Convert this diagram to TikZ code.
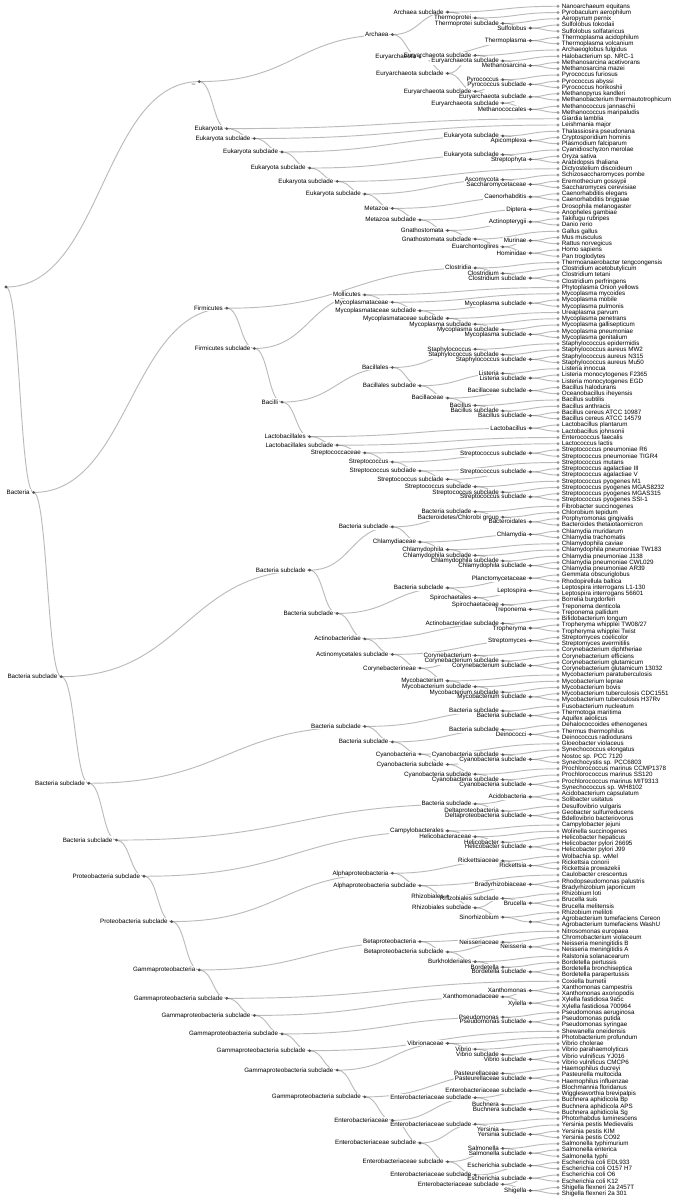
\documentclass[tikz,border=0pt]{standalone}
\usepackage{fontspec}
\setmainfont{Liberation Sans}
\usetikzlibrary{calc}
\pgfdeclarelayer{bg}
\pgfdeclarelayer{halo}
\pgfsetlayers{bg,halo,main}
\definecolor{leafgray}{HTML}{999999}
\definecolor{innergray}{HTML}{555555}
\definecolor{linkgray}{HTML}{555555}
\newdimen\tsumy \newdimen\tdim \newcount\tcnt \newcount\thmax \newcount\thc
\tikzset{
  leafdot/.style={circle, fill=leafgray, inner sep=0pt, minimum size=3.1pt},
  innerdot/.style={circle, fill=innergray, inner sep=0pt, minimum size=3.1pt},
  lab/.style={font=\fontsize{6.25}{7}\selectfont, inner sep=0pt, text=black},
  link/.style={draw=linkgray, draw opacity=0.4, line width=0.94pt},
  halofill/.style={fill=white},
}
% internal node: id, label, children
\newcommand\T[3]{%
  \global\tsumy=0pt \global\tcnt=0 \global\thmax=0
  \foreach \ch in {#3}{%
    \pgfextracty{\tdim}{\pgfpointanchor{\ch}{center}}%
    \global\advance\tsumy by \tdim
    \global\advance\tcnt by 1
    \thc=\csname hh@\ch\endcsname\relax
    \ifnum\thc>\thmax \global\thmax=\thc\fi
  }%
  \global\advance\thmax by 1
  \expandafter\xdef\csname hh@#1\endcsname{\the\thmax}%
  \global\divide\tsumy by \tcnt
  \tdim=27.6pt \multiply\tdim by \thmax \tdim=-\tdim \advance\tdim by 558pt
  \node[innerdot] (#1) at (\the\tdim,\the\tsumy) {};
  \node[lab, anchor=base east, xshift=-3.75pt, yshift=-1.94pt] (#1t) at (#1.center) {#2};
  \begin{pgfonlayer}{halo}
  \fill[halofill] ([xshift=-0.8pt,yshift=-0.8pt]#1t.south west) rectangle ([xshift=0.8pt,yshift=0.8pt]#1t.north east);
  \end{pgfonlayer}
  \begin{pgfonlayer}{bg}
  \foreach \ch in {#3}{\draw[link] let \p1=(#1.center), \p2=(\ch.center) in
     (\p1) .. controls ({0.5*\x1+0.5*\x2},\y1) and ({0.5*\x1+0.5*\x2},\y2) .. (\p2);}
  \end{pgfonlayer}
}
\begin{document}
\begin{tikzpicture}
\begin{pgfonlayer}{bg}
\fill[white] (0pt,0pt) rectangle (675pt,-1200pt);
\end{pgfonlayer}
\useasboundingbox (0pt,0pt) rectangle (675pt,-1200pt);
\foreach \nm [count=\i from 0] in {
Nanoarchaeum equitans,
Pyrobaculum aerophilum,
Aeropyrum pernix,
Sulfolobus tokodaii,
Sulfolobus solfataricus,
Thermoplasma acidophilum,
Thermoplasma volcanium,
Archaeoglobus fulgidus,
Halobacterium sp. NRC-1,
Methanosarcina acetivorans,
Methanosarcina mazei,
Pyrococcus furiosus,
Pyrococcus abyssi,
Pyrococcus horikoshii,
Methanopyrus kandleri,
Methanobacterium thermautotrophicum,
Methanococcus jannaschii,
Methanococcus maripaludis,
Giardia lamblia,
Leishmania major,
Thalassiosira pseudonana,
Cryptosporidium hominis,
Plasmodium falciparum,
Cyanidioschyzon merolae,
Oryza sativa,
Arabidopsis thaliana,
Dictyostelium discoideum,
Schizosaccharomyces pombe,
Eremothecium gossypii,
Saccharomyces cerevisiae,
Caenorhabditis elegans,
Caenorhabditis briggsae,
Drosophila melanogaster,
Anopheles gambiae,
Takifugu rubripes,
Danio rerio,
Gallus gallus,
Mus musculus,
Rattus norvegicus,
Homo sapiens,
Pan troglodytes,
Thermoanaerobacter tengcongensis,
Clostridium acetobutylicum,
Clostridium tetani,
Clostridium perfringens,
Phytoplasma Onion yellows,
Mycoplasma mycoides,
Mycoplasma mobile,
Mycoplasma pulmonis,
Ureaplasma parvum,
Mycoplasma penetrans,
Mycoplasma gallisepticum,
Mycoplasma pneumoniae,
Mycoplasma genitalium,
Staphylococcus epidermidis,
Staphylococcus aureus MW2,
Staphylococcus aureus N315,
Staphylococcus aureus Mu50,
Listeria innocua,
Listeria monocytogenes F2365,
Listeria monocytogenes EGD,
Bacillus halodurans,
Oceanobacillus iheyensis,
Bacillus subtilis,
Bacillus anthracis,
Bacillus cereus ATCC 10987,
Bacillus cereus ATCC 14579,
Lactobacillus plantarum,
Lactobacillus johnsonii,
Enterococcus faecalis,
Lactococcus lactis,
Streptococcus pneumoniae R6,
Streptococcus pneumoniae TIGR4,
Streptococcus mutans,
Streptococcus agalactiae III,
Streptococcus agalactiae V,
Streptococcus pyogenes M1,
Streptococcus pyogenes MGAS8232,
Streptococcus pyogenes MGAS315,
Streptococcus pyogenes SSI-1,
Fibrobacter succinogenes,
Chlorobium tepidum,
Porphyromonas gingivalis,
Bacteroides thetaiotaomicron,
Chlamydia muridarum,
Chlamydia trachomatis,
Chlamydophila caviae,
Chlamydophila pneumoniae TW183,
Chlamydia pneumoniae J138,
Chlamydia pneumoniae CWL029,
Chlamydia pneumoniae AR39,
Gemmata obscuriglobus,
Rhodopirellula baltica,
Leptospira interrogans L1-130,
Leptospira interrogans 56601,
Borrelia burgdorferi,
Treponema denticola,
Treponema pallidum,
Bifidobacterium longum,
Tropheryma whipplei TW08/27,
Tropheryma whipplei Twist,
Streptomyces coelicolor,
Streptomyces avermitilis,
Corynebacterium diphtheriae,
Corynebacterium efficiens,
Corynebacterium glutamicum,
Corynebacterium glutamicum 13032,
Mycobacterium paratuberculosis,
Mycobacterium leprae,
Mycobacterium bovis,
Mycobacterium tuberculosis CDC1551,
Mycobacterium tuberculosis H37Rv,
Fusobacterium nucleatum,
Thermotoga maritima,
Aquifex aeolicus,
Dehalococcoides ethenogenes,
Thermus thermophilus,
Deinococcus radiodurans,
Gloeobacter violaceus,
Synechococcus elongatus,
Nostoc sp. PCC 7120,
Synechocystis sp. PCC6803,
Prochlorococcus marinus CCMP1378,
Prochlorococcus marinus SS120,
Prochlorococcus marinus MIT9313,
Synechococcus sp. WH8102,
Acidobacterium capsulatum,
Solibacter usitatus,
Desulfovibrio vulgaris,
Geobacter sulfurreducens,
Bdellovibrio bacteriovorus,
Campylobacter jejuni,
Wolinella succinogenes,
Helicobacter hepaticus,
Helicobacter pylori 26695,
Helicobacter pylori J99,
Wolbachia sp. wMel,
Rickettsia conorii,
Rickettsia prowazekii,
Caulobacter crescentus,
Rhodopseudomonas palustris,
Bradyrhizobium japonicum,
Rhizobium loti,
Brucella suis,
Brucella melitensis,
Rhizobium meliloti,
Agrobacterium tumefaciens Cereon,
Agrobacterium tumefaciens WashU,
Nitrosomonas europaea,
Chromobacterium violaceum,
Neisseria meningitidis B,
Neisseria meningitidis A,
Ralstonia solanacearum,
Bordetella pertussis,
Bordetella bronchiseptica,
Bordetella parapertussis,
Coxiella burnetii,
Xanthomonas campestris,
Xanthomonas axonopodis,
Xylella fastidiosa 9a5c,
Xylella fastidiosa 700964,
Pseudomonas aeruginosa,
Pseudomonas putida,
Pseudomonas syringae,
Shewanella oneidensis,
Photobacterium profundum,
Vibrio cholerae,
Vibrio parahaemolyticus,
Vibrio vulnificus YJ016,
Vibrio vulnificus CMCP6,
Haemophilus ducreyi,
Pasteurella multocida,
Haemophilus influenzae,
Blochmannia floridanus,
Wigglesworthia brevipalpis,
Buchnera aphidicola Bp,
Buchnera aphidicola APS,
Buchnera aphidicola Sg,
Photorhabdus luminescens,
Yersinia pestis Medievalis,
Yersinia pestis KIM,
Yersinia pestis CO92,
Salmonella typhimurium,
Salmonella enterica,
Salmonella typhi,
Escherichia coli EDL933,
Escherichia coli O157 H7,
Escherichia coli O6,
Escherichia coli K12,
Shigella flexneri 2a 2457T,
Shigella flexneri 2a 301}{%
  \node[leafdot] (L\i) at (558pt,{-6.25pt-6.25pt*\i}) {};
  \node[lab, anchor=base west, xshift=3.75pt, yshift=-1.94pt] (L\i t) at (L\i.center) {\nm};
  \expandafter\xdef\csname hh@L\i\endcsname{0}%
}
% Archaea
\T{A1}{Sulfolobus}{L3,L4}
\T{A2}{Thermoprotei subclade}{L2,A1}
\T{A3}{Thermoprotei}{L1,A2}
\T{A4}{Archaea subclade}{L0,A3}
\T{A5}{Thermoplasma}{L5,L6}
\T{A6}{Methanosarcina}{L9,L10}
\T{A7}{Euryarchaeota subclade}{L8,A6}
\T{A8}{Euryarchaeota subclade}{L7,A7}
\T{A9}{Pyrococcus subclade}{L12,L13}
\T{A10}{Pyrococcus}{L11,A9}
\T{A11}{Euryarchaeota subclade}{L14,L15}
\T{A12}{Methanococcales}{L16,L17}
\T{A13}{Euryarchaeota subclade}{A11,A12}
\T{A14}{Euryarchaeota subclade}{A10,A13}
\T{A15}{Euryarchaeota subclade}{A8,A14}
\T{A16}{Euryarchaeota}{A5,A15}
\T{A17}{Archaea}{A4,A16}
% Eukaryota
\T{E1}{Apicomplexa}{L21,L22}
\T{E2}{Eukaryota subclade}{L20,E1}
\T{E3}{Streptophyta}{L24,L25}
\T{E4}{Eukaryota subclade}{L23,E3}
\T{E5}{Saccharomycetaceae}{L28,L29}
\T{E6}{Ascomycota}{L27,E5}
\T{E7}{Caenorhabditis}{L30,L31}
\T{E8}{Diptera}{L32,L33}
\T{E9}{Actinopterygii}{L34,L35}
\T{E10}{Murinae}{L37,L38}
\T{E11}{Hominidae}{L39,L40}
\T{E12}{Euarchontoglires}{E10,E11}
\T{E13}{Gnathostomata subclade}{L36,E12}
\T{E14}{Gnathostomata}{E9,E13}
\T{E15}{Metazoa subclade}{E8,E14}
\T{E16}{Metazoa}{E7,E15}
\T{E17}{Eukaryota subclade}{E6,E16}
\T{E18}{Eukaryota subclade}{L26,E17}
\T{E19}{Eukaryota subclade}{E4,E18}
\T{E20}{Eukaryota subclade}{E2,E19}
\T{E21}{Eukaryota subclade}{L19,E20}
\T{E22}{Eukaryota}{L18,E21}
\T{U}{\_}{A17,E22}
% Firmicutes
\T{F1}{Clostridium subclade}{L43,L44}
\T{F2}{Clostridium}{L42,F1}
\T{F3}{Clostridia}{L41,F2}
\T{F4}{Mycoplasma subclade}{L47,L48}
\T{F5}{Mycoplasma subclade}{L52,L53}
\T{F6}{Mycoplasma subclade}{L51,F5}
\T{F7}{Mycoplasma subclade}{L50,F6}
\T{F8}{Mycoplasmataceae subclade}{L49,F7}
\T{F9}{Mycoplasmataceae subclade}{F4,F8}
\T{F10}{Mycoplasmataceae}{L46,F9}
\T{F11}{Mollicutes}{L45,F10}
\T{F12}{Staphylococcus subclade}{L56,L57}
\T{F13}{Staphylococcus subclade}{L55,F12}
\T{F14}{Staphylococcus}{L54,F13}
\T{F15}{Listeria subclade}{L59,L60}
\T{F16}{Listeria}{L58,F15}
\T{F17}{Bacillaceae subclade}{L61,L62}
\T{F18}{Bacillus subclade}{L65,L66}
\T{F19}{Bacillus subclade}{L64,F18}
\T{F20}{Bacillus}{L63,F19}
\T{F21}{Bacillaceae}{F17,F20}
\T{F22}{Bacillales subclade}{F16,F21}
\T{F23}{Bacillales}{F14,F22}
\T{F24}{Lactobacillus}{L67,L68}
\T{F25}{Streptococcus subclade}{L71,L72}
\T{F26}{Streptococcus subclade}{L74,L75}
\T{F27}{Streptococcus subclade}{L78,L79}
\T{F28}{Streptococcus subclade}{L77,F27}
\T{F29}{Streptococcus subclade}{L76,F28}
\T{F30}{Streptococcus subclade}{F26,F29}
\T{F31}{Streptococcus subclade}{L73,F30}
\T{F32}{Streptococcus}{F25,F31}
\T{F33}{Streptococcaceae}{L70,F32}
\T{F34}{Lactobacillales subclade}{L69,F33}
\T{F35}{Lactobacillales}{F24,F34}
\T{F36}{Bacilli}{F23,F35}
\T{F37}{Firmicutes subclade}{F11,F36}
\T{F38}{Firmicutes}{F3,F37}
% Bacteria middle
\T{B1}{Bacteroidales}{L82,L83}
\T{B2}{Bacteroidetes/Chlorobi group}{L81,B1}
\T{B3}{Bacteria subclade}{L80,B2}
\T{B4}{Chlamydia}{L84,L85}
\T{B5}{Chlamydophila subclade}{L89,L90}
\T{B6}{Chlamydophila subclade}{L88,B5}
\T{B7}{Chlamydophila subclade}{L87,B6}
\T{B8}{Chlamydophila}{L86,B7}
\T{B9}{Chlamydiaceae}{B4,B8}
\T{B10}{Bacteria subclade}{B3,B9}
\T{B11}{Planctomycetaceae}{L91,L92}
\T{B12}{Leptospira}{L93,L94}
\T{B13}{Treponema}{L96,L97}
\T{B14}{Spirochaetaceae}{L95,B13}
\T{B15}{Spirochaetales}{B12,B14}
\T{B16}{Bacteria subclade}{B11,B15}
\T{B17}{Tropheryma}{L99,L100}
\T{B18}{Actinobacteridae subclade}{L98,B17}
\T{B19}{Streptomyces}{L101,L102}
\T{B20}{Corynebacterium subclade}{L105,L106}
\T{B21}{Corynebacterium subclade}{L104,B20}
\T{B22}{Corynebacterium}{L103,B21}
\T{B23}{Mycobacterium subclade}{L110,L111}
\T{B24}{Mycobacterium subclade}{L109,B23}
\T{B25}{Mycobacterium subclade}{L108,B24}
\T{B26}{Mycobacterium}{L107,B25}
\T{B27}{Corynebacterineae}{B22,B26}
\T{B28}{Actinomycetales subclade}{B19,B27}
\T{B29}{Actinobacteridae}{B18,B28}
\T{B30}{Bacteria subclade}{B16,B29}
\T{B31}{Bacteria subclade}{B10,B30}
\T{C1}{Bacteria subclade}{L113,L114}
\T{C2}{Bacteria subclade}{L112,C1}
\T{C3}{Deinococci}{L116,L117}
\T{C4}{Bacteria subclade}{L115,C3}
\T{C5}{Cyanobacteria subclade}{L120,L121}
\T{C6}{Cyanobacteria subclade}{L119,C5}
\T{C7}{Cyanobacteria subclade}{L124,L125}
\T{C8}{Cyanobacteria subclade}{L123,C7}
\T{C9}{Cyanobacteria subclade}{L122,C8}
\T{C10}{Cyanobacteria subclade}{C6,C9}
\T{C11}{Cyanobacteria}{L118,C10}
\T{C12}{Bacteria subclade}{C4,C11}
\T{C13}{Bacteria subclade}{C2,C12}
\T{D1}{Acidobacteria}{L126,L127}
\T{D2}{Deltaproteobacteria subclade}{L129,L130}
\T{D3}{Deltaproteobacteria}{L128,D2}
\T{D4}{Bacteria subclade}{D1,D3}
\T{D5}{Helicobacter subclade}{L134,L135}
\T{D6}{Helicobacter}{L133,D5}
\T{D7}{Helicobacteraceae}{L132,D6}
\T{D8}{Campylobacterales}{L131,D7}
\T{D9}{Rickettsia}{L137,L138}
\T{D10}{Rickettsiaceae}{L136,D9}
\T{D11}{Bradyrhizobiaceae}{L140,L141}
\T{D12}{Brucella}{L143,L144}
\T{D13}{Rhizobiales subclade}{L142,D12}
\T{D14}{}{L146,L147}
\T{D15}{Sinorhizobium}{L145,D14}
\T{D16}{Rhizobiales subclade}{D13,D15}
\T{D17}{Rhizobiales}{D11,D16}
\T{D18}{Alphaproteobacteria subclade}{L139,D17}
\T{D19}{Alphaproteobacteria}{D10,D18}
\T{D20}{Neisseria}{L150,L151}
\T{D21}{Neisseriaceae}{L149,D20}
\T{D22}{Bordetella subclade}{L154,L155}
\T{D23}{Bordetella}{L153,D22}
\T{D24}{Burkholderiales}{L152,D23}
\T{D25}{Betaproteobacteria subclade}{D21,D24}
\T{D26}{Betaproteobacteria}{L148,D25}
% Gamma
\T{G1}{Xanthomonas}{L157,L158}
\T{G2}{Xylella}{L159,L160}
\T{G3}{Xanthomonadaceae}{G1,G2}
\T{G4}{Pseudomonas subclade}{L162,L163}
\T{G5}{Pseudomonas}{L161,G4}
\T{G6}{Vibrio subclade}{L168,L169}
\T{G7}{Vibrio subclade}{L167,G6}
\T{G8}{Vibrio}{L166,G7}
\T{G9}{Vibrionaceae}{L165,G8}
\T{G10}{Pasteurellaceae subclade}{L171,L172}
\T{G11}{Pasteurellaceae}{L170,G10}
\T{G12}{Enterobacteriaceae subclade}{L173,L174}
\T{G13}{Buchnera subclade}{L176,L177}
\T{G14}{Buchnera}{L175,G13}
\T{G15}{Enterobacteriaceae subclade}{G12,G14}
\T{G16}{Yersinia subclade}{L180,L181}
\T{G17}{Yersinia}{L179,G16}
\T{G18}{Enterobacteriaceae subclade}{L178,G17}
\T{G19}{Salmonella subclade}{L183,L184}
\T{G20}{Salmonella}{L182,G19}
\T{G21}{Escherichia subclade}{L185,L186}
\T{G22}{Escherichia subclade}{L187,L188}
\T{G23}{Shigella}{L189,L190}
\T{G24}{Enterobacteriaceae subclade}{G22,G23}
\T{G25}{Enterobacteriaceae subclade}{G21,G24}
\T{G26}{Enterobacteriaceae subclade}{G20,G25}
\T{G27}{Enterobacteriaceae subclade}{G18,G26}
\T{G28}{Enterobacteriaceae}{G15,G27}
\T{G29}{Gammaproteobacteria subclade}{G11,G28}
\T{G30}{Gammaproteobacteria subclade}{G9,G29}
\T{G31}{Gammaproteobacteria subclade}{L164,G30}
\T{G32}{Gammaproteobacteria subclade}{G5,G31}
\T{G33}{Gammaproteobacteria subclade}{G3,G32}
\T{G34}{Gammaproteobacteria subclade}{L156,G33}
\T{G35}{Gammaproteobacteria}{D26,G34}
% upper Bacteria
\T{P1}{Proteobacteria subclade}{D19,G35}
\T{P2}{Proteobacteria subclade}{D8,P1}
\T{P3}{Bacteria subclade}{D4,P2}
\T{P4}{Bacteria subclade}{C13,P3}
\T{P5}{Bacteria subclade}{B31,P4}
\T{BAC}{Bacteria}{F38,P5}
\T{ROOT}{}{U,BAC}
\end{tikzpicture}
\end{document}
